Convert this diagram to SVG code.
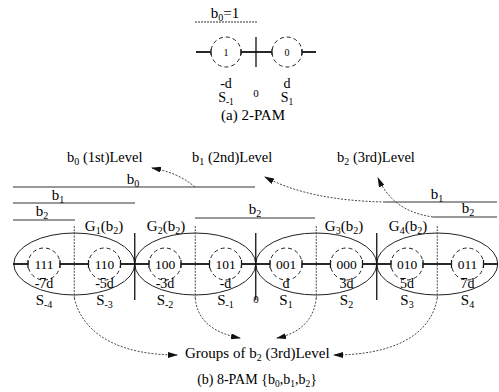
<svg xmlns="http://www.w3.org/2000/svg" width="499" height="392" viewBox="0 0 499 392">
<style>
text{font-family:"Liberation Serif","Times New Roman",serif;fill:#000}
.lbl{font-size:15px;text-anchor:middle}
.sm{font-size:14px;text-anchor:middle}
.cir{fill:none;stroke:#222;stroke-width:1;stroke-dasharray:4 3}
.ax{stroke:#111;stroke-width:1.8;fill:none}
.tk{stroke:#111;stroke-width:1.2}
.ell{fill:none;stroke:#222;stroke-width:1}
.vd{stroke:#333;stroke-width:0.9;stroke-dasharray:2 1.2}
.vs{stroke:#111;stroke-width:1.3}
.bl{stroke:#333;stroke-width:1;fill:none}
.arr{fill:none;stroke:#333;stroke-width:0.9;stroke-dasharray:2 1.5}
.ctext{font-size:13.5px;text-anchor:middle}
</style>
<defs>
<marker id="ah" viewBox="0 0 10 6" refX="9" refY="3" markerWidth="10" markerHeight="6" markerUnits="userSpaceOnUse" orient="auto">
<path d="M0,0 L10,3 L0,6 z" fill="#111"/>
</marker>
</defs>

<!-- (a) 2-PAM -->
<g id="pam2">
<text x="225" y="18" class="lbl">b<tspan font-size="10" dy="3">0</tspan><tspan dy="-3">=1</tspan></text>
<line x1="195" y1="22" x2="257" y2="22" class="bl" stroke-dasharray="2 1"/>
<line x1="196" y1="52" x2="211" y2="52" class="ax" stroke-width="1.2"/>
<line x1="241" y1="52" x2="272" y2="52" class="ax" stroke-width="1.2"/>
<line x1="302" y1="52" x2="316" y2="52" class="ax" stroke-width="1.2"/>
<line x1="211" y1="49" x2="211" y2="55" class="tk"/>
<line x1="241" y1="49" x2="241" y2="55" class="tk"/>
<line x1="272" y1="49" x2="272" y2="55" class="tk"/>
<line x1="302" y1="49" x2="302" y2="55" class="tk"/>
<line x1="256" y1="37" x2="256" y2="67" class="vs" stroke-width="1"/>
<g id="p2s1"><circle cx="226" cy="52" r="15" class="cir"/><text x="226" y="55.5" font-size="10" text-anchor="middle">1</text></g>
<g id="p2s0"><circle cx="287" cy="52" r="15" class="cir"/><text x="287" y="55.5" font-size="10" text-anchor="middle">0</text></g>
<text x="226" y="88" class="sm">-d</text>
<text x="226" y="102" class="sm">S<tspan font-size="9.5" dy="3">-1</tspan></text>
<text x="256" y="97" font-size="11" text-anchor="middle">0</text>
<text x="287" y="88" class="sm">d</text>
<text x="287" y="102" class="sm">S<tspan font-size="9.5" dy="3">1</tspan></text>
<text x="253" y="120" class="lbl">(a) 2-PAM</text>
</g>

<!-- level labels -->
<g id="levels">
<text x="67" y="162" font-size="14.5">b<tspan font-size="10" dy="3">0</tspan><tspan dy="-3"> (1st)Level</tspan></text>
<text x="192" y="162" font-size="14.5">b<tspan font-size="10" dy="3">1</tspan><tspan dy="-3"> (2nd)Level</tspan></text>
<text x="337" y="162" font-size="14.5">b<tspan font-size="10" dy="3">2</tspan><tspan dy="-3"> (3rd)Level</tspan></text>
</g>

<!-- bit lines -->
<g id="bitlines">
<line x1="13" y1="187" x2="255" y2="187" class="bl"/>
<text x="133" y="184" class="lbl">b<tspan font-size="10" dy="3">0</tspan></text>
<line x1="13" y1="203" x2="135" y2="203" class="bl"/>
<text x="58" y="200" class="lbl">b<tspan font-size="10" dy="3">1</tspan></text>
<line x1="13" y1="220" x2="75" y2="220" class="bl"/>
<text x="42" y="216" class="lbl">b<tspan font-size="10" dy="3">2</tspan></text>
<line x1="195" y1="218" x2="315" y2="218" class="bl"/>
<text x="255" y="214" class="lbl">b<tspan font-size="10" dy="3">2</tspan></text>
<line x1="385" y1="202" x2="497" y2="202" class="bl"/>
<text x="437" y="199" class="lbl">b<tspan font-size="10" dy="3">1</tspan></text>
<line x1="433" y1="217" x2="497" y2="217" class="bl"/>
<text x="468" y="213" class="lbl">b<tspan font-size="10" dy="3">2</tspan></text>
</g>

<!-- group labels -->
<g id="glabels">
<text x="104" y="231" class="lbl">G<tspan font-size="10" dy="3">1</tspan><tspan dy="-3">(b</tspan><tspan font-size="10" dy="3">2</tspan><tspan dy="-3">)</tspan></text>
<text x="166" y="231" class="lbl">G<tspan font-size="10" dy="3">2</tspan><tspan dy="-3">(b</tspan><tspan font-size="10" dy="3">2</tspan><tspan dy="-3">)</tspan></text>
<text x="344" y="231" class="lbl">G<tspan font-size="10" dy="3">3</tspan><tspan dy="-3">(b</tspan><tspan font-size="10" dy="3">2</tspan><tspan dy="-3">)</tspan></text>
<text x="408" y="231" class="lbl">G<tspan font-size="10" dy="3">4</tspan><tspan dy="-3">(b</tspan><tspan font-size="10" dy="3">2</tspan><tspan dy="-3">)</tspan></text>
</g>

<!-- ellipses -->
<g id="groups">
<ellipse cx="74.25" cy="264" rx="60.5" ry="31" class="ell"/>
<ellipse cx="195.25" cy="264" rx="60.5" ry="31" class="ell"/>
<ellipse cx="316.25" cy="264" rx="60.5" ry="31" class="ell"/>
<ellipse cx="437.25" cy="264" rx="60.5" ry="31" class="ell"/>
</g>

<!-- axis -->
<g id="axis">
<line x1="13" y1="264" x2="28" y2="264" class="ax"/>
<line x1="60" y1="264" x2="88.5" y2="264" class="ax"/>
<line x1="120.5" y1="264" x2="149" y2="264" class="ax"/>
<line x1="181" y1="264" x2="209.5" y2="264" class="ax"/>
<line x1="241.5" y1="264" x2="270" y2="264" class="ax"/>
<line x1="302" y1="264" x2="330.5" y2="264" class="ax"/>
<line x1="362.5" y1="264" x2="391" y2="264" class="ax"/>
<line x1="423" y1="264" x2="451.5" y2="264" class="ax"/>
<line x1="483.5" y1="264" x2="498" y2="264" class="ax"/>
<path class="tk" d="M28,260v8M60,260v8M88.5,260v8M120.5,260v8M149,260v8M181,260v8M209.5,260v8M241.5,260v8M270,260v8M302,260v8M330.5,260v8M362.5,260v8M391,260v8M423,260v8M451.5,260v8M483.5,260v8"/>
<line x1="134.75" y1="233" x2="134.75" y2="300" class="vs" stroke-width="1"/>
<line x1="255.75" y1="233" x2="255.75" y2="300" class="vs"/>
<line x1="376.75" y1="233" x2="376.75" y2="300" class="vs" stroke-width="1"/>
<line x1="74.25" y1="226" x2="74.25" y2="298" class="vd"/>
<line x1="195.25" y1="226" x2="195.25" y2="298" class="vd"/>
<line x1="316.25" y1="226" x2="316.25" y2="298" class="vd"/>
<line x1="437.25" y1="226" x2="437.25" y2="298" class="vd"/>
</g>

<!-- symbols -->
<g id="s111"><circle cx="44" cy="264" r="16" class="cir"/><text x="44" y="268.5" class="ctext">111</text></g>
<g id="s110"><circle cx="104.5" cy="264" r="16" class="cir"/><text x="104.5" y="268.5" class="ctext">110</text></g>
<g id="s100"><circle cx="165" cy="264" r="16" class="cir"/><text x="165" y="268.5" class="ctext">100</text></g>
<g id="s101"><circle cx="225.5" cy="264" r="16" class="cir"/><text x="225.5" y="268.5" class="ctext">101</text></g>
<g id="s001"><circle cx="286" cy="264" r="16" class="cir"/><text x="286" y="268.5" class="ctext">001</text></g>
<g id="s000"><circle cx="346.5" cy="264" r="16" class="cir"/><text x="346.5" y="268.5" class="ctext">000</text></g>
<g id="s010"><circle cx="407" cy="264" r="16" class="cir"/><text x="407" y="268.5" class="ctext">010</text></g>
<g id="s011"><circle cx="467.5" cy="264" r="16" class="cir"/><text x="467.5" y="268.5" class="ctext">011</text></g>

<!-- amplitude labels -->
<g id="amps">
<text x="44" y="288" class="sm">-7d</text>
<text x="104.5" y="288" class="sm">-5d</text>
<text x="165" y="288" class="sm">-3d</text>
<text x="225.5" y="288" class="sm">-d</text>
<text x="256" y="303" font-size="11" text-anchor="middle">0</text>
<text x="286" y="288" class="sm">d</text>
<text x="346.5" y="288" class="sm">3d</text>
<text x="407" y="288" class="sm">5d</text>
<text x="467.5" y="288" class="sm">7d</text>
<text x="44" y="305" class="lbl">S<tspan font-size="10" dy="3">-4</tspan></text>
<text x="104.5" y="305" class="lbl">S<tspan font-size="10" dy="3">-3</tspan></text>
<text x="165" y="305" class="lbl">S<tspan font-size="10" dy="3">-2</tspan></text>
<text x="225.5" y="305" class="lbl">S<tspan font-size="10" dy="3">-1</tspan></text>
<text x="286" y="305" class="lbl">S<tspan font-size="10" dy="3">1</tspan></text>
<text x="346.5" y="305" class="lbl">S<tspan font-size="10" dy="3">2</tspan></text>
<text x="407" y="305" class="lbl">S<tspan font-size="10" dy="3">3</tspan></text>
<text x="467.5" y="305" class="lbl">S<tspan font-size="10" dy="3">4</tspan></text>
</g>

<!-- connectors -->
<g id="connectors">
<path class="arr" d="M195,187 C182,176 168,171 152,168" marker-end="url(#ah)"/>
<path class="arr" d="M385,202 C335,201 295,193 265,177" marker-end="url(#ah)"/>
<path class="arr" d="M433,217 C405,213 388,200 378,178" marker-end="url(#ah)"/>
<path class="arr" d="M74.25,298 C84,338 125,355 177,355" marker-end="url(#ah)"/>
<path class="arr" d="M195.25,298 C197,320 213,333 240,338" marker-end="url(#ah)"/>
<path class="arr" d="M316.25,298 C314,320 300,333 277,338" marker-end="url(#ah)"/>
<path class="arr" d="M437.25,298 C430,340 385,355 334,355" marker-end="url(#ah)"/>
</g>

<g id="groups-label">
<text x="185" y="358" font-size="15">Groups of b<tspan font-size="10" dy="3">2</tspan><tspan dy="-3"> (3rd)Level</tspan></text>
</g>
<g id="caption">
<text x="257" y="384" class="sm">(b) 8-PAM {b<tspan font-size="9.5" dy="3">0</tspan><tspan dy="-3">,b</tspan><tspan font-size="9.5" dy="3">1</tspan><tspan dy="-3">,b</tspan><tspan font-size="9.5" dy="3">2</tspan><tspan dy="-3">}</tspan></text>
</g>
</svg>
